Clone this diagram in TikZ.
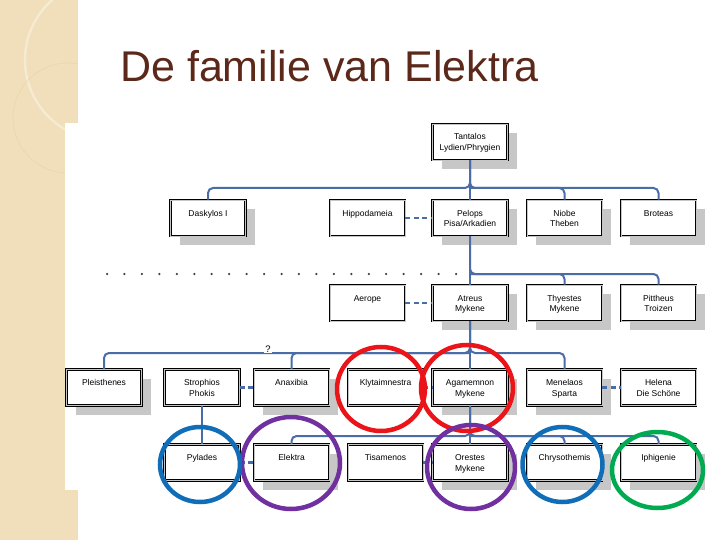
\documentclass[tikz,border=0pt]{standalone}
\usepackage{fontspec}
\setmainfont{Liberation Sans}
\usetikzlibrary{shadows}

\definecolor{linkblue}{RGB}{74,109,167}
\definecolor{titlebrown}{RGB}{92,40,26}
\definecolor{sand}{RGB}{240,223,186}
\definecolor{ringred}{RGB}{235,20,25}
\definecolor{ringpurple}{RGB}{112,48,160}
\definecolor{ringblue}{RGB}{16,110,185}
\definecolor{ringgreen}{RGB}{0,170,80}

% Text oben im Kasten
\newcommand{\tb}[1]{\parbox[c][30pt][t]{72pt}{\centering\rule{0pt}{13pt}#1}}

\begin{document}
\begin{tikzpicture}[x=1pt, y=-1pt,
    person/.style={draw=black, double=gray!45, double distance=0.5pt, line width=0.8pt,
        fill=white, minimum width=75pt, minimum height=36pt, inner sep=0pt,
        font=\fontsize{8.5}{10.5}\selectfont},
    shd/.style={general shadow={fill=black!22, shadow xshift=9pt, shadow yshift=-9pt}},
    link/.style={linkblue, line width=2pt, rounded corners=5pt},
    wed/.style={linkblue, line width=2.5pt, dash pattern=on 5pt off 3.5pt},
    ring/.style={line width=4.5pt}]

    % Hintergrund
    \useasboundingbox (0,0) rectangle (720,540);
    \fill[white] (0,0) rectangle (720,540);
    \fill[sand] (0,0) rectangle (78,540);
    \begin{scope}
        \clip (0,0) rectangle (78,540);
        \draw[white!35!sand, line width=2.5pt] (105,60) circle (80);
        \draw[sand!85!brown, line width=0.4pt] (68,118) circle (55);
    \end{scope}
    \fill[white] (65,123) rectangle (720,490);

    % Titel
    \node[anchor=base west, inner sep=0pt, text=titlebrown,
        font=\fontsize{43}{50}\selectfont] (title) at (120,82) {De familie van Elektra};

    % Generation 1 und 2
    \node[person, shd] (tantalos) at (470,142) {\tb{Tantalos\\Lydien/Phrygien}};
    \node[person, shd] (daskylos) at (208,218) {\tb{Daskylos I}};
    \node[person] (hippodameia) at (367.5,218) {\tb{Hippodameia}};
    \node[person, shd] (pelops) at (470,218) {\tb{Pelops\\Pisa/Arkadien}};
    \node[person, shd] (niobe) at (564.5,218) {\tb{Niobe\\Theben}};
    \node[person, shd] (broteas) at (658.5,218) {\tb{Broteas}};

    % Generation 3
    \node[person] (aerope) at (367.5,303) {\tb{Aerope}};
    \node[person, shd] (atreus) at (470,303) {\tb{Atreus\\Mykene}};
    \node[person, shd] (thyestes) at (564.5,303) {\tb{Thyestes\\Mykene}};
    \node[person, shd] (pittheus) at (658.5,303) {\tb{Pittheus\\Troizen}};

    % Generation 4
    \node[person, shd] (pleisthenes) at (104,387.5) {\tb{Pleisthenes}};
    \node[person] (strophios) at (202,387.5) {\tb{Strophios\\Phokis}};
    \node[person, shd] (anaxibia) at (291.5,387.5) {\tb{Anaxibia}};
    \node[person] (klytaimnestra) at (385.5,387.5) {\tb{Klytaimnestra}};
    \node[person, shd] (agamemnon) at (470,387.5) {\tb{Agamemnon\\Mykene}};
    \node[person, shd] (menelaos) at (564.5,387.5) {\tb{Menelaos\\Sparta}};
    \node[person] (helena) at (658.5,387.5) {\tb{Helena\\Die Schöne}};

    % Generation 5
    \node[person] (pylades) at (202,462.5) {\tb{Pylades}};
    \node[person, shd] (elektra) at (291.5,462.5) {\tb{Elektra}};
    \node[person] (tisamenos) at (385.5,462.5) {\tb{Tisamenos}};
    \node[person, shd] (orestes) at (470,462.5) {\tb{Orestes\\Mykene}};
    \node[person, shd] (chrysothemis) at (564.5,462.5) {\tb{Chrysothemis}};
    \node[person, shd] (iphigenie) at (658.5,462.5) {\tb{Iphigenie}};

    % Abstammung
    \coordinate (j1) at (470,188);
    \coordinate (j2) at (470,274);
    \coordinate (j3) at (470,353);
    \coordinate (j4) at (470,436);
    \draw[link] (tantalos.south) -- (j1) -| (daskylos.north);
    \draw[link] (tantalos.south) -- (j1) -| (broteas.north);
    \draw[link] (j1) -| (niobe.north);
    \draw[link] (tantalos.south) -- (pelops.north);
    \draw[link] (pelops.south) -- (j2) -| (pittheus.north);
    \draw[link] (j2) -| (thyestes.north);
    \draw[link] (pelops.south) -- (atreus.north);
    \draw[link] (atreus.south) -- (j3) -| (pleisthenes.north);
    \draw[link] (atreus.south) -- (j3) -| (menelaos.north);
    \draw[link] (j3) -| (anaxibia.north);
    \draw[link] (atreus.south) -- (agamemnon.north);
    \draw[link] (agamemnon.south) -- (j4) -| (elektra.north);
    \draw[link] (agamemnon.south) -- (j4) -| (iphigenie.north);
    \draw[link] (j4) -| (chrysothemis.north);
    \draw[link] (agamemnon.south) -- (orestes.north);
    \draw[link] (strophios.south) -- (pylades.north);
    \node[fill=white, inner sep=1pt, font=\fontsize{9.5}{10}\selectfont] (unsure) at (268,349) {?};

    % Ehen
    \draw[wed] (hippodameia.east) -- (pelops.west);
    \draw[wed] (aerope.east) -- (atreus.west);
    \draw[wed] (strophios.east) -- (anaxibia.west);
    \draw[wed] (klytaimnestra.east) -- (agamemnon.west);
    \draw[wed] (menelaos.east) -- (helena.west);
    \draw[wed] (pylades.east) -- (elektra.west);
    \draw[wed] (tisamenos.east) -- (orestes.west);

    % Punktlinie
    \coordinate (dotstart) at (107,274);
    \coordinate (dotend) at (456,274);
    \draw[black!75, line width=2.5pt, line cap=round, dash pattern=on 0pt off 17.45pt]
        (dotstart) -- (dotend);

    % Kreise
    \draw[ring, ringred] (381,389) ellipse [x radius=44, y radius=42];
    \draw[ring, ringred] (467,388) ellipse [x radius=46, y radius=43];
    \draw[ring, ringpurple] (291,463) ellipse [x radius=49, y radius=46];
    \draw[ring, ringpurple] (471,467) ellipse [x radius=44, y radius=42];
    \draw[ring, ringblue] (200,464.5) ellipse [x radius=40, y radius=37.5];
    \draw[ring, ringblue] (562.5,464.5) ellipse [x radius=40, y radius=37.5];
    \draw[ring, ringgreen] (657.5,470) ellipse [x radius=45.5, y radius=38];
\end{tikzpicture}
\end{document}
